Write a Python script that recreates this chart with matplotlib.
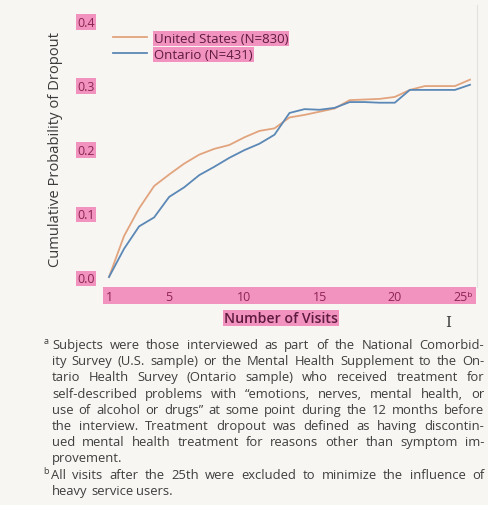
import matplotlib
matplotlib.use("Agg")
import matplotlib.pyplot as plt
import matplotlib.transforms as mtransforms
from matplotlib.patches import Rectangle
from matplotlib.lines import Line2D

# ---- data -------------------------------------------------------------
visits = list(range(1, 26))
us_dropout = [0.000, 0.064, 0.107, 0.142, 0.160, 0.177, 0.191, 0.200, 0.206, 0.218,
              0.228, 0.232, 0.249, 0.253, 0.258, 0.263, 0.276, 0.277, 0.278, 0.281,
              0.292, 0.298, 0.298, 0.298, 0.308]
ontario_dropout = [0.000, 0.044, 0.079, 0.093, 0.125, 0.140, 0.159, 0.172, 0.186, 0.198,
                   0.208, 0.222, 0.256, 0.262, 0.261, 0.264, 0.273, 0.273, 0.272, 0.272,
                   0.292, 0.292, 0.292, 0.292, 0.300]
series_labels = ["United States (N=830)", "Ontario (N=431)"]

x_ticks = [1, 5, 10, 15, 20, 25]
x_tick_labels = ["1", "5", "10", "15", "20", "25\u1d47"]
y_ticks = [0.0, 0.1, 0.2, 0.3, 0.4]
y_tick_labels = ["0.0", "0.1", "0.2", "0.3", "0.4"]

x_title = "Number of Visits"
y_title = "Cumulative Probability of Dropout"

footnote_lines = [
    ("Subjects were those interviewed as part of the National Comorbid-", True),
    ("ity Survey (U.S. sample) or the Mental Health Supplement to the On-", True),
    ("tario Health Survey (Ontario sample) who received treatment for", True),
    ("self-described problems with \u201cemotions, nerves, mental health, or", True),
    ("use of alcohol or drugs\u201d at some point during the 12 months before", True),
    ("the interview. Treatment dropout was defined as having discontin-", True),
    ("ued mental health treatment for reasons other than symptom im-", True),
    ("provement.", False),
    ("All visits after the 25th were excluded to minimize the influence of", True),
    ("heavy service users.", False),
]
footnote_marks = {0: "a", 8: "b"}

# ---- style ------------------------------------------------------------
plt.rcParams["font.family"] = ["Open Sans", "DejaVu Sans"]
BG = "#f7f6f2"
PINK = "#f293bf"
TICK_TXT = "#8e2452"
LABEL_TXT = "#5e1a40"
US_COLOR = "#e2a47e"
ON_COLOR = "#5b88b6"
BODY_TXT = "#3e3e3e"

W, H = 488, 506
fig = plt.figure(figsize=(W / 100, H / 100), dpi=100)
fig.patch.set_facecolor(BG)


def fx(x):
    return x / W


def fy(y):
    return 1 - y / H


# axes box in pixel terms
ax_l, ax_r, ax_t, ax_b = 103, 476, 12, 283
ax = fig.add_axes([fx(ax_l), fy(ax_b), (ax_r - ax_l) / W, (ax_b - ax_t) / H])
ax.set_facecolor(BG)
for sp in ax.spines.values():
    sp.set_visible(False)

# scale: visit 1 at x=109, visit 25 at x=470; 0.0 at y=278, 0.4 at y=21.7
px_per_visit = (470 - 109) / 24
ax.set_xlim(1 - (109 - ax_l) / px_per_visit, 25 + (ax_r - 470) / px_per_visit)
px_per_unit = (278 - 21.7) / 0.4
ax.set_ylim(-(ax_b - 278) / px_per_unit, 0.4 + (21.7 - ax_t) / px_per_unit)

ax.plot(visits, us_dropout, color=US_COLOR, lw=1.3, label=series_labels[0],
        solid_joinstyle="round")
ax.plot(visits, ontario_dropout, color=ON_COLOR, lw=1.3, label=series_labels[1],
        solid_joinstyle="round")

# ticks
ax.set_xticks(x_ticks, x_tick_labels)
ax.set_yticks(y_ticks, y_tick_labels)
ax.tick_params(axis="x", length=0, pad=6.0, labelsize=9, labelcolor=TICK_TXT)
ax.tick_params(axis="y", length=0, pad=6.0, labelsize=9, labelcolor=TICK_TXT)
for lbl in ax.get_yticklabels():
    lbl.set_bbox(dict(facecolor=PINK, edgecolor="none", pad=1.0))

# pink band behind the x tick labels
band_tr = mtransforms.blended_transform_factory(ax.transAxes, fig.transFigure)
band = Rectangle((0, fy(305)), 1, (305 - 288) / H, transform=band_tr,
                 facecolor=PINK, edgecolor="none", zorder=-1)
fig.add_artist(band)

# axis titles
ax.set_ylabel(y_title, fontsize=10.6, color="#3a3a3a")
ax.yaxis.set_label_coords((63 - ax_l) / (ax_r - ax_l), 1 - (149.5 - ax_t) / (ax_b - ax_t))
ax.set_xlabel(x_title, fontsize=10.2, color=LABEL_TXT, fontweight="semibold")
ax.xaxis.set_label_coords((281 - ax_l) / (ax_r - ax_l), (ax_b - 312) / (ax_b - ax_t))
ax.xaxis.label.set_bbox(dict(facecolor=PINK, edgecolor="none", pad=0.8))

# legend
leg = ax.legend(loc="upper left",
                bbox_to_anchor=((113 - ax_l) / (ax_r - ax_l), 1 - (33 - ax_t) / (ax_b - ax_t)),
                frameon=False, borderpad=0, borderaxespad=0, handlelength=2.6,
                handletextpad=0.5, labelspacing=0.2, fontsize=9.5)
for t in leg.get_texts():
    t.set_color(LABEL_TXT)
    t.set_bbox(dict(facecolor=PINK, edgecolor="none", pad=0.8))

# faint page edge on the right
fig.add_artist(Line2D([fx(477), fx(477)], [fy(6), fy(288)], transform=fig.transFigure,
                      color="#e3e3e0", lw=0.8, zorder=-2))

# text cursor glyph
fig.text(fx(448), fy(323), "I", family="DejaVu Serif", fontsize=11,
         color="#3c3c3c", ha="center", va="center")

# ---- footnotes (justified) -------------------------------------------
fig.canvas.draw()
renderer = fig.canvas.get_renderer()

# nudge the last x tick label a little left
last_lbl = ax.xaxis.get_major_ticks()[-1].label1
last_lbl.set_transform(last_lbl.get_transform()
                       + mtransforms.ScaledTranslation(-7 / 100, 0, fig.dpi_scale_trans))

FOOT_X0, FOOT_X1 = 52, 484
BASE0, STEP = 349, 16.2


def width_of(s, size):
    t = fig.text(0, 0, s, fontsize=size)
    w = t.get_window_extent(renderer).width
    t.remove()
    return w


# size the body text from the two short (unjustified) lines
ref_w = width_of(footnote_lines[7][0], 10) + width_of(footnote_lines[9][0], 10)
foot_size = 10 * 190.6 / ref_w

for i, (line, justify) in enumerate(footnote_lines):
    base = BASE0 + i * STEP
    x0 = FOOT_X0 if i != 8 else FOOT_X0 - 1
    if i in footnote_marks:
        fig.text(fx(x0 - 8), fy(base - 4.5), footnote_marks[i], fontsize=6.5,
                 color=BODY_TXT, va="baseline", ha="left")
    words = line.split(" ")
    widths = [width_of(w, foot_size) for w in words]
    if justify:
        gap = (FOOT_X1 - x0 - sum(widths)) / (len(words) - 1)
    else:
        gap = width_of("a a", foot_size) - width_of("aa", foot_size)
    x = x0
    for w, wd in zip(words, widths):
        fig.text(fx(x), fy(base), w, fontsize=foot_size,
                 color=BODY_TXT, va="baseline", ha="left")
        x += wd + gap

fig.savefig("out.png", dpi=100, facecolor=BG)
